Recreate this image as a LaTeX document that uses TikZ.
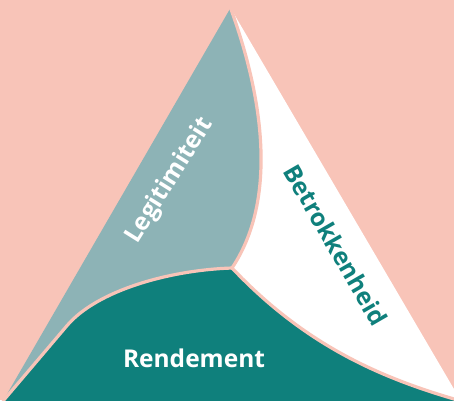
\documentclass[tikz,border=0pt]{standalone}
\usepackage{fontspec}
\newfontfamily\labfont{Open Sans}
\definecolor{salmon}{HTML}{F8C4B8}
\definecolor{greyc}{HTML}{8DB3B6}
\definecolor{tealc}{HTML}{0F807C}
\tikzset{
  sep/.style={draw=salmon, line width=3.2pt, line cap=round, line join=round},
  lab/.style={font=\labfont\bfseries\fontsize{24.5}{28}\selectfont, inner sep=0pt, anchor=center}
}
\begin{document}
\begin{tikzpicture}[x=1pt,y=-1pt]
\useasboundingbox (0,0) rectangle (454,400);
\fill[salmon] (0,0) rectangle (454,400);
\clip (0,0) rectangle (454,400);
\coordinate (T) at (230.5,8);
\coordinate (L) at (3,401);
\coordinate (R) at (461,401);
\coordinate (C) at (232,268);
\coordinate (M) at (66.7,326);
% grey region
\fill[greyc] (T) -- (L) -- (M) .. controls (96.7,290.3) and (170,270) .. (C)
  .. controls (282,193) and (258,83) .. (T) -- cycle;
% white region
\fill[white] (T) .. controls (258,83) and (282,193) .. (C)
  .. controls (305,345) and (380,378) .. (R) -- cycle;
% teal region
\fill[tealc] (C) .. controls (170,270) and (96.7,290.3) .. (M) -- (L)
  -- (3,420) -- (461,420) -- (R)
  .. controls (380,378) and (305,345) .. (C) -- cycle;
% separators
\draw[sep] (C) .. controls (282,193) and (258,83) .. (T);
\draw[sep] (C) .. controls (170,270) and (96.7,290.3) .. (M) -- (L);
\draw[sep] (C) .. controls (305,345) and (380,378) .. (R);
% labels
\node[lab, text=white, rotate=58] (legit) at (170,181) {Legitimiteit};
\node[lab, text=tealc, rotate=-60] (betrok) at (336,245) {Betrokkenheid};
\node[lab, text=white] (rend) at (194,358.5) {Rendement};
\end{tikzpicture}
\end{document}
